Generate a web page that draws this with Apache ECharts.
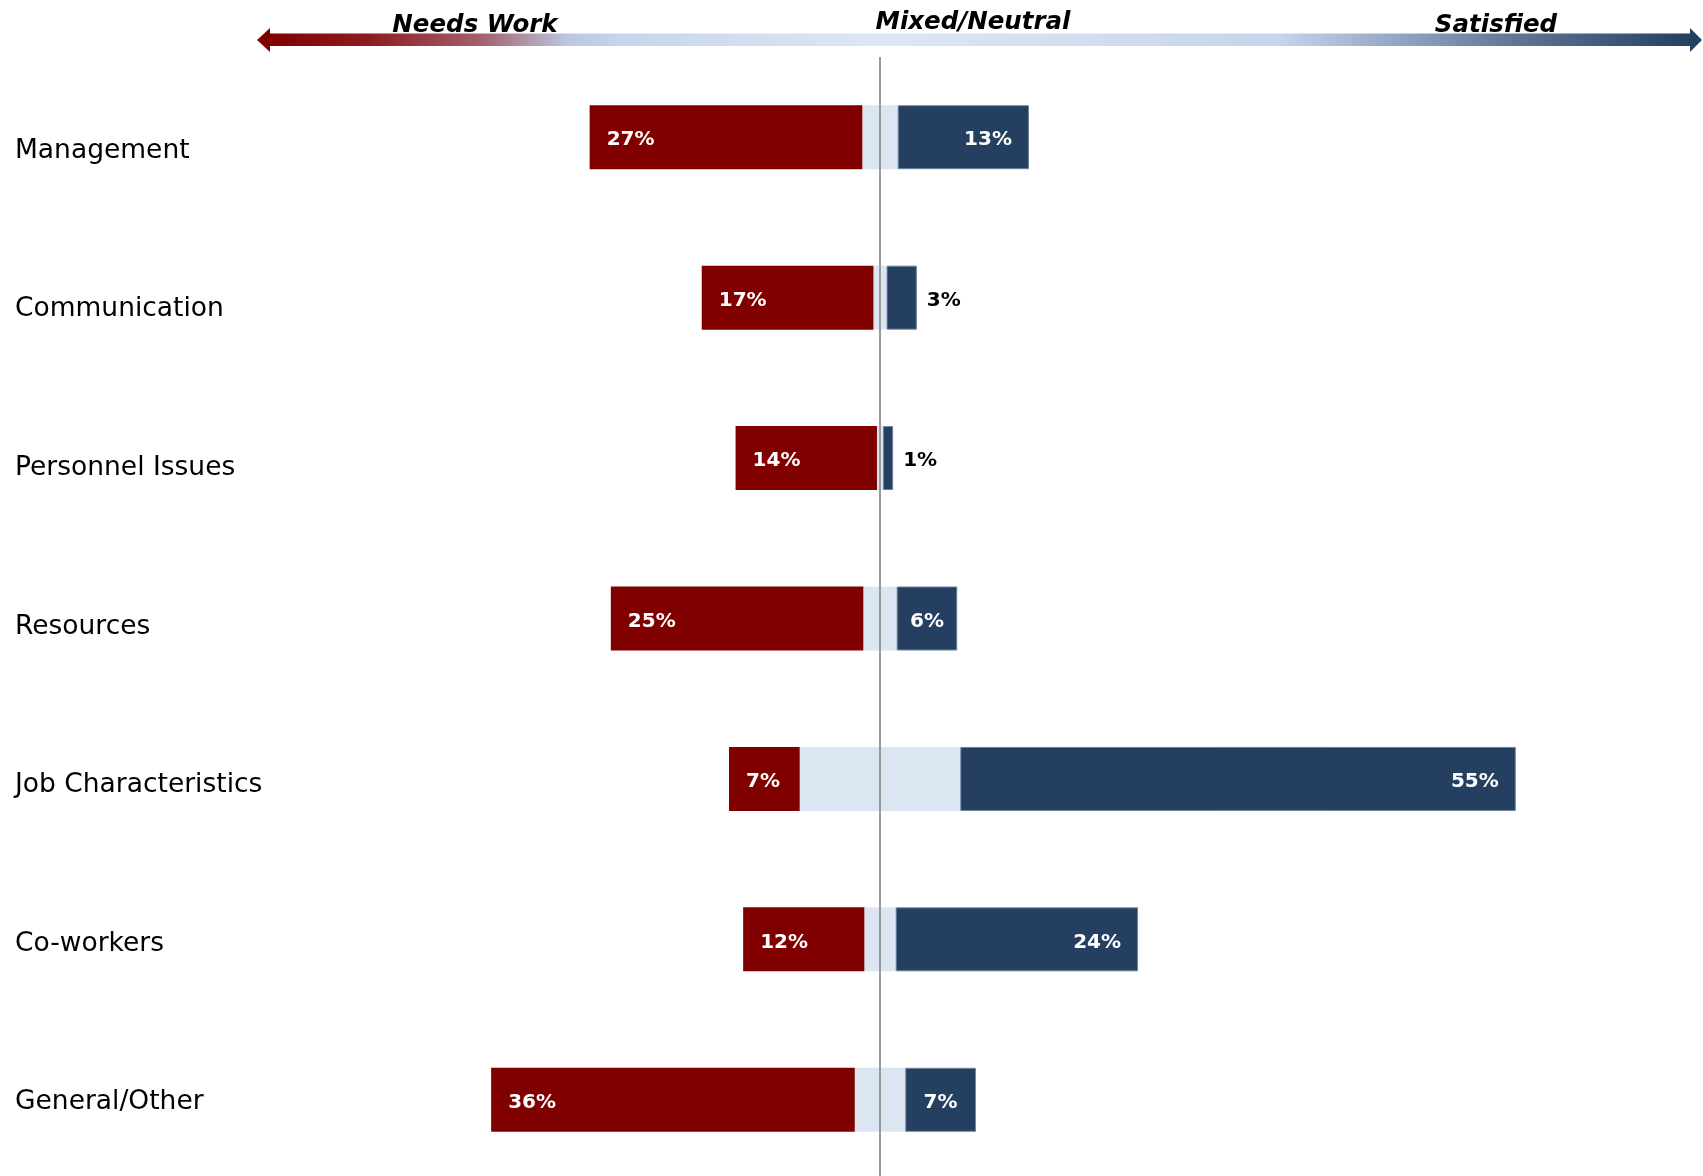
<!DOCTYPE html>
<html>
<head>
<meta charset="utf-8">
<title>Survey comments by theme</title>
<script src="https://cdn.jsdelivr.net/npm/echarts@6/dist/echarts.min.js"></script>
<style>
  html, body { margin: 0; padding: 0; background: #ffffff; }
  #chart { width: 1703px; height: 1176px; }
</style>
</head>
<body>
<div id="chart"></div>
<script>
// Comment themes, top to bottom
const categories = ['Management', 'Communication', 'Personnel Issues', 'Resources',
  'Job Characteristics', 'Co-workers', 'General/Other'];
// Share of comments (%) in each tone
const needsWork = [27, 17, 14, 25, 7, 12, 36];
const mixedNeutral = [3.5, 1.3, 0.6, 3.3, 15.9, 3.1, 5.0];
const satisfied = [13, 3, 1, 6, 55, 24, 7];

const RED = '#800000';
const NAVY = '#243f60';
const PALE = '#dce6f2';
const FONT = 'DejaVu Sans';

const chart = echarts.init(document.getElementById('chart'), null, { renderer: 'canvas' });

// Neutral comments straddle the centre line: half on each side
const neutralLeft = mixedNeutral.map(v => -v / 2);
const neutralRight = mixedNeutral.map(v => v / 2);

const valueLabel = {
  fontFamily: FONT, fontWeight: 'bold', fontSize: 20, color: '#ffffff',
  offset: [0, 3],
  formatter: p => Math.abs(p.value) + '%'
};

// Satisfied labels sit at the inner end, centred in short bars, outside tiny ones
const satisfiedData = satisfied.map(v => {
  let label;
  if (v < 5) label = { position: 'right', distance: 10, color: '#000000' };
  else if (v < 10) label = { position: 'inside' };
  else label = { position: 'insideRight', distance: 17 };
  return { value: v, label };
});

const headingFont = 'italic bold 24.5px "DejaVu Sans"';

const option = {
  backgroundColor: '#ffffff',
  animation: false,
  grid: [
    // bars
    { left: 476, width: 1212, top: 57, height: 1123, containLabel: false, outerBoundsMode: 'none' },
    // theme names down the left, on a slightly tighter pitch than the bars
    { left: 476, width: 1212, top: 71.7, height: 1110.2, containLabel: false, outerBoundsMode: 'none' }
  ],
  xAxis: [
    { type: 'value', min: -40, max: 80, show: false, gridIndex: 0 },
    { type: 'value', min: -40, max: 80, show: false, gridIndex: 1 }
  ],
  yAxis: [
    {
      type: 'category', data: categories, inverse: true, gridIndex: 0,
      axisLine: { show: false }, axisTick: { show: false }, splitLine: { show: false },
      axisLabel: { show: false }
    },
    {
      type: 'category', data: categories, inverse: true, gridIndex: 1,
      axisLine: { show: false }, axisTick: { show: false }, splitLine: { show: false },
      axisLabel: {
        align: 'left', margin: 461,
        fontFamily: FONT, fontSize: 26.5, color: '#000000'
      }
    }
  ],
  series: [
    {
      name: 'Mixed/Neutral (left half)', type: 'bar', stack: 'tone', barWidth: 64,
      data: neutralLeft, itemStyle: { color: PALE }, silent: true
    },
    {
      name: 'Needs Work', type: 'bar', stack: 'tone', barWidth: 64,
      data: needsWork.map(v => -v),
      itemStyle: { color: RED },
      label: Object.assign({ show: true, position: 'insideLeft', distance: 17 }, valueLabel)
    },
    {
      name: 'Mixed/Neutral (right half)', type: 'bar', stack: 'tone', barWidth: 64,
      data: neutralRight, itemStyle: { color: PALE }, silent: true,
      markLine: {
        silent: true, symbol: 'none', label: { show: false },
        lineStyle: { color: '#9a9a9a', width: 2, type: 'solid' },
        data: [[{ coord: [0, 0], y: 57 }, { coord: [0, 0], y: 1176 }]]
      }
    },
    {
      name: 'Satisfied', type: 'bar', stack: 'tone', barWidth: 64,
      data: satisfiedData,
      itemStyle: { color: NAVY, borderColor: '#6f83a0', borderWidth: 1 },
      label: Object.assign({ show: true }, valueLabel)
    }
  ],
  graphic: [
    // Tone scale arrow across the top
    {
      type: 'rect', silent: true,
      shape: { x: 268, y: 33.5, width: 1424, height: 12.5 },
      style: {
        fill: new echarts.graphic.LinearGradient(0, 0, 1, 0, [
          { offset: 0.00, color: '#800000' },
          { offset: 0.07, color: '#8c1c20' },
          { offset: 0.15, color: '#a4606e' },
          { offset: 0.21, color: '#bcc6e0' },
          { offset: 0.25, color: '#c7d5ee' },
          { offset: 0.43, color: '#dfe6f3' },
          { offset: 0.71, color: '#c6d4ed' },
          { offset: 0.78, color: '#9badca' },
          { offset: 0.88, color: '#5d7394' },
          { offset: 1.00, color: '#243f60' }
        ])
      }
    },
    {
      type: 'polygon', silent: true,
      shape: { points: [[257, 40], [270, 28], [270, 52]] },
      style: { fill: '#800000' }
    },
    {
      type: 'polygon', silent: true,
      shape: { points: [[1702, 40], [1690, 28], [1690, 52]] },
      style: { fill: '#243f60' }
    },
    {
      type: 'text', silent: true,
      style: {
        x: 475, y: 25.5, text: 'Needs Work', align: 'center', verticalAlign: 'middle',
        font: headingFont, fill: '#000000'
      }
    },
    {
      type: 'text', silent: true,
      style: {
        x: 973, y: 23, text: 'Mixed/Neutral', align: 'center', verticalAlign: 'middle',
        font: headingFont, fill: '#000000'
      }
    },
    {
      type: 'text', silent: true,
      style: {
        x: 1496, y: 25.5, text: 'Satisfied', align: 'center', verticalAlign: 'middle',
        font: headingFont, fill: '#000000'
      }
    }
  ]
};

chart.setOption(option);
</script>
</body>
</html>
